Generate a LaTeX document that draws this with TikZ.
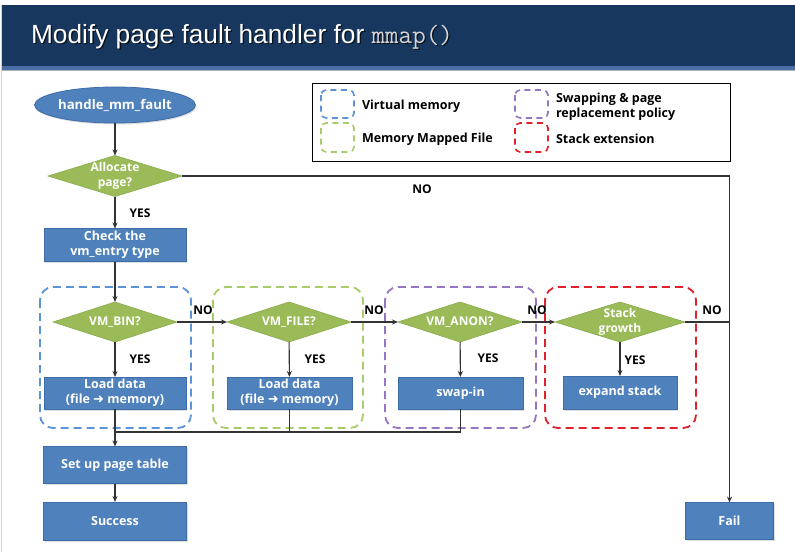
\documentclass[tikz,border=0pt]{standalone}
\usepackage{fontspec}
\setmainfont{Liberation Sans}
\newfontfamily\lbl{Open Sans}
\newfontfamily\dejavu{DejaVu Sans}
\usetikzlibrary{shapes.geometric,arrows.meta,shadows}
\definecolor{titlebg}{HTML}{17375E}
\definecolor{titlestrip}{HTML}{4A6FA5}
\definecolor{boxblue}{HTML}{4F81BD}
\definecolor{boxedge}{HTML}{3E6CA8}
\definecolor{diagreen}{HTML}{9BBB59}
\definecolor{diaedge}{HTML}{8AAA4E}
\definecolor{grpblue}{HTML}{5B93D6}
\definecolor{grpgreen}{HTML}{A8CC6A}
\definecolor{grppurple}{HTML}{9476C2}
\definecolor{grpred}{HTML}{E0202A}
\definecolor{linegray}{HTML}{333333}
\tikzset{
  every node/.style={inner sep=0pt, outer sep=0pt},
  boxnode/.style={rectangle, fill=boxblue, draw=boxedge, line width=0.8pt, text=white,
    font=\lbl\bfseries\fontsize{12.5}{15}\selectfont, align=center,
    drop shadow={shadow xshift=1.2pt, shadow yshift=-1.5pt, opacity=0.25}},
  dianode/.style={diamond, fill=diagreen, draw=diaedge, line width=0.6pt},
  dtext/.style={text=white, font=\lbl\bfseries\fontsize{12}{14.5}\selectfont, align=center},
  ynlabel/.style={font=\lbl\bfseries\fontsize{12}{14}\selectfont, text=black},
  legtext/.style={font=\lbl\bfseries\fontsize{12.5}{15}\selectfont, text=black, align=left, anchor=west},
  grp/.style={dashed, dash pattern=on 8pt off 5pt, line width=1.8pt, rounded corners=13pt},
  leggrp/.style={dashed, dash pattern=on 6pt off 4.5pt, line width=1.6pt, rounded corners=5pt},
  conn/.style={draw=linegray, line width=1.1pt},
  arr/.style={conn, -{Stealth[length=6pt,width=5pt]}},
}
\newcommand{\fatarrow}{{\dejavu\bfseries\fontsize{13}{15}\selectfont ➜}}
\begin{document}
\begin{tikzpicture}[x=1pt,y=-1pt]
\useasboundingbox (0,0) rectangle (795,552);
\fill[white] (0,0) rectangle (795,552);
% title bar
\fill[titlebg] (2,5) rectangle (795,67);
\fill[titlestrip] (2,66) rectangle (795,70);
\draw[gray!60, line width=0.8pt] (2,70.5) -- (795,70.5);
\draw[gray!35, line width=0.8pt] (1.5,5) -- (1.5,552);
\node[anchor=base west, text=black, opacity=0.7, font=\fontsize{26.3}{30}\selectfont] (titleshadow) at (32.3,44.3)
  {Modify page fault handler for {\ttfamily\color{black}mmap()}};
\node[anchor=base west, text=white, font=\fontsize{26.3}{30}\selectfont] (title) at (31,43)
  {Modify page fault handler for {\ttfamily\color[HTML]{D6D6D6}mmap()}};

% legend
\draw[black, line width=1pt] (312,83) rectangle (730,161);
\draw[leggrp, grpblue] (321,90) rectangle (354,118);
\draw[leggrp, grpgreen] (321,123) rectangle (354,152);
\draw[leggrp, grppurple] (515,90) rectangle (548,118);
\draw[leggrp, grpred] (515,123) rectangle (548,152);
\node[legtext] (lvm) at (362,106) {Virtual memory};
\node[legtext] (lmmf) at (362,139) {Memory Mapped File};
\node[legtext] (lswap) at (556,106.5) {Swapping \& page\\replacement policy};
\node[legtext] (lstack) at (556,139) {Stack extension};

% groups
\draw[grp, grpblue] (40,287) rectangle (191,428);
\draw[grp, grpgreen] (213,287) rectangle (363,428);
\draw[grp, grppurple] (385,287) rectangle (536,428);
\draw[grp, grpred] (545,287) rectangle (696,428);

% nodes
\node[ellipse, fill=boxblue, draw=boxedge, line width=0.8pt, minimum width=114pt, minimum height=36pt,
  text=white, font=\lbl\bfseries\fontsize{13.2}{16}\selectfont,
  drop shadow={shadow xshift=1.2pt, shadow yshift=-1.5pt, opacity=0.25}] (fault) at (115,105) {handle\_mm\_fault};
\node[dianode, minimum width=134pt, minimum height=41pt,
  label={[dtext]center:Allocate\\page?}] (alloc) at (115,176) {};
\node[boxnode, minimum width=142pt, minimum height=33pt] (check) at (115,245) {Check the\\vm\_entry type};
\node[dianode, minimum width=124pt, minimum height=40pt,
  label={[dtext]center:VM\_BIN?}] (vmbin) at (115,322) {};
\node[dianode, minimum width=124pt, minimum height=40pt,
  label={[dtext]center:VM\_FILE?}] (vmfile) at (289,322) {};
\node[dianode, minimum width=124pt, minimum height=40pt,
  label={[dtext]center:VM\_ANON?}] (vmanon) at (460,322) {};
\node[dianode, minimum width=130pt, minimum height=40pt,
  label={[dtext]center:Stack\\growth}] (stack) at (620,322) {};
\node[boxnode, minimum width=142pt, minimum height=32pt] (load1) at (115,393)
  {Load data\\(file \fatarrow\ memory)};
\node[boxnode, minimum width=125pt, minimum height=32pt] (load2) at (289.5,393)
  {Load data\\(file \fatarrow\ memory)};
\node[boxnode, minimum width=125pt, minimum height=32pt] (swap) at (460.5,393) {swap-in};
\node[boxnode, minimum width=114pt, minimum height=33pt] (expand) at (620,392.5) {expand stack};
\node[boxnode, minimum width=143pt, minimum height=37pt] (setup) at (115,465) {Set up page table};
\node[boxnode, minimum width=143pt, minimum height=38pt] (success) at (115,521) {Success};
\node[boxnode, minimum width=88pt, minimum height=37pt] (fail) at (729.5,521) {Fail};

% coordinates
\coordinate (cr) at (729.5,176);
\coordinate (jr) at (729.5,322);
\coordinate (jn) at (115,432);

% connectors
\draw[arr] (fault) -- (alloc);
\draw[arr] (alloc) -- (check);
\draw[arr] (check) -- (vmbin);
\draw[arr] (vmbin) -- (vmfile);
\draw[arr] (vmfile) -- (vmanon);
\draw[arr] (vmanon) -- (stack);
\draw[conn] (stack.east) -- (jr);
\draw[conn] (alloc.east) -- (cr);
\draw[arr] (cr) -- (fail.north);
\draw[arr] (vmbin) -- (load1);
\draw[arr] (vmfile) -- (load2);
\draw[arr] (vmanon) -- (swap);
\draw[arr] (stack) -- (expand);
\draw[arr] (load1) -- (setup);
\draw[conn] (load2.south) -- (load2.south |- jn);
\draw[conn] (swap.south) |- (jn);
\draw[arr] (setup) -- (success);

% labels
\node[ynlabel] (noalloc) at (422,189) {NO};
\node[ynlabel] (yesalloc) at (140,213) {YES};
\node[ynlabel] (no1) at (203,310) {NO};
\node[ynlabel] (no2) at (374,310) {NO};
\node[ynlabel] (no3) at (537,310) {NO};
\node[ynlabel] (no4) at (712,310) {NO};
\node[ynlabel] (yes1) at (140,359) {YES};
\node[ynlabel] (yes2) at (315,359) {YES};
\node[ynlabel] (yes3) at (488,358) {YES};
\node[ynlabel] (yes4) at (635,360) {YES};
\end{tikzpicture}
\end{document}
